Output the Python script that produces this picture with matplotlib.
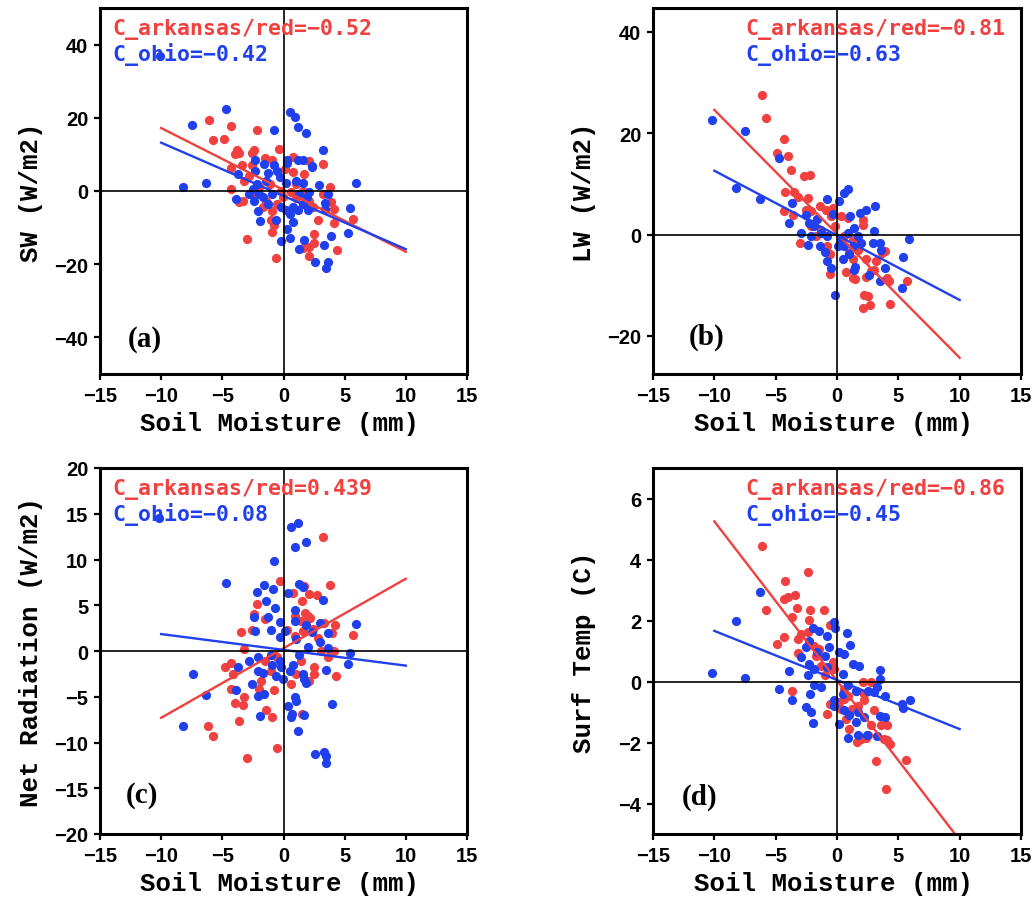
import matplotlib
matplotlib.use('Agg')
import matplotlib.pyplot as plt
import numpy as np

RED = '#F0403F'
BLUE = '#2040EE'

# ---------------- data ----------------
xticks = [-15, -10, -5, 0, 5, 10, 15]
fit_x = [-10, 10]

# (a) SW
sw_ark = [(-6.1, 19.5), (-4.3, 17.7), (-2.2, 16.8), (-5.8, 13.9), (-4.9, 14.1), (-3.8, 11.1),
          (-3.6, 10.5), (-4.0, 10.0), (-2.6, 10.5), (-2.4, 11.1), (-0.4, 11.5), (0.8, 9.4),
          (-1.5, 9.1), (-4.3, 6.2), (-3.4, 7.1), (-2.6, 7.1), (-2.8, 4.1), (-0.9, 8.6),
          (0.1, 5.9), (0.8, 5.3), (1.7, 4.6), (3.2, 7.5), (2.1, 8.2), (-4.3, 0.6), (-3.2, 2.6),
          (-3.6, -3.1), (-3.3, -2.8), (-1.4, -2.6), (-1.7, -4.4), (-0.95, -5.5), (-1.0, -8.0),
          (-0.8, -9.4), (-0.9, -11.3), (-3.0, -13.2), (-0.6, -18.3), (3.8, 1.2), (3.2, -0.8),
          (3.9, -3.1), (4.1, -4.9), (4.1, -8.7), (5.7, -7.6), (2.8, -7.8), (2.5, -11.8),
          (2.5, -14.3), (2.1, -15.4), (1.6, -15.7), (2.1, -17.7), (4.4, -16.1), (1.0, -1.9),
          (2.1, -2.6), (2.4, -4.4), (0.6, -0.4), (-0.2, 0.1), (-2.0, 1.0), (-1.1, 1.9),
          (1.0, 1.9), (-0.05, -1.7), (1.6, -0.1), (-2.5, -0.8), (-0.5, -3.5)]
sw_ohio = [(-10.1, 37.0), (-4.69, 22.4), (-7.5, 18.1), (-8.2, 1.2), (-6.3, 2.3), (-0.8, 16.8),
           (0.57, 21.7), (0.95, 20.1), (1.2, 17.4), (1.8, 15.9), (3.2, 11.2), (5.9, 2.1),
           (5.4, -4.7), (5.3, -11.6), (3.9, -12.3), (3.6, -19.3), (3.5, -21.1), (2.6, -19.5),
           (3.3, -14.7), (1.7, -13.4), (1.3, -15.8), (0.5, -12.8), (-0.2, -13.7), (0.3, -10.5),
           (-0.6, -8.0), (-1.9, -8.2), (-2.1, -5.5), (-3.9, -2.2), (-3.7, 4.6), (-2.3, 8.6),
           (-1.6, 7.5), (-2.3, 5.5), (-1.3, 4.8), (-0.8, 7.0), (-0.5, 5.5), (0.3, 8.6),
           (0.3, 7.7), (1.2, 8.6), (1.6, 8.4), (2.3, 6.8), (2.3, 6.6), (2.9, 1.7), (3.6, -0.8),
           (3.4, -3.3), (3.4, -4.9), (0.2, 2.1), (1.0, 2.6), (1.6, 2.3), (-1.4, 2.8),
           (-0.3, 3.7), (-2.8, -0.8), (-2.5, 0.5), (-2.2, 1.9), (-2.0, -0.8), (-2.4, -2.6),
           (-1.7, -1.7), (-1.3, -3.5), (-0.9, -0.8), (-0.2, -4.4), (0.2, -5.3), (0.5, -6.2),
           (0.8, -4.4), (1.2, -5.3), (1.6, -3.5), (1.9, -1.7), (2.0, -5.3), (0.8, -8.5),
           (1.3, -0.8), (2.1, -0.4)]
sw_fit_ark = [17.2, -16.6]
sw_fit_ohio = [13.2, -15.9]

# (b) LW
lw_ark = [(-6.1, 27.6), (-5.8, 23.0), (-4.3, 18.9), (-4.9, 16.0), (-4.0, 15.6), (-3.75, 12.7),
          (-2.7, 11.6), (-2.2, 11.8), (-4.2, 8.4), (-3.5, 8.4), (-3.2, 7.4), (-2.4, 7.2),
          (-4.3, 4.7), (-3.6, 3.9), (-2.5, 4.9), (-2.1, 4.6), (-1.4, 5.6), (-0.9, 4.9),
          (-0.35, 5.3), (-0.5, 3.6), (0.3, 3.6), (0.9, 3.3), (2.1, 2.8), (2.1, 1.8),
          (-3.0, -1.6), (-1.7, -0.3), (-1.3, 1.0), (-0.8, -2.3), (-0.6, -3.9), (-0.6, -7.7),
          (0.7, -7.3), (1.3, -8.6), (1.5, -8.8), (1.0, -3.6), (1.7, -3.0), (2.4, -4.9),
          (2.4, -8.4), (2.8, -7.2), (3.2, -5.3), (3.7, -3.6), (3.9, -3.3), (4.1, -8.6),
          (4.2, -9.2), (5.7, -9.2), (2.2, -12.0), (2.5, -12.2), (2.1, -14.5), (2.7, -13.9),
          (4.3, -13.6), (1.3, -4.9), (3.0, -6.9), (0.6, -0.3), (1.3, -1.0), (-2.1, 1.6),
          (-1.6, 3.0), (-0.2, 1.6)]
lw_ohio = [(-10.2, 22.6), (-7.5, 20.5), (-4.7, 15.1), (-8.2, 9.2), (-6.3, 7.1), (-3.7, 6.2),
           (-3.9, 2.2), (-2.9, 0.3), (-2.4, -2.0), (-2.5, 3.9), (-0.8, 7.1), (0.2, 6.7),
           (0.6, 8.2), (0.9, 8.9), (-0.3, 4.0), (1.1, 3.6), (1.9, 4.3), (2.4, 4.9), (3.1, 5.6),
           (3.0, 0.7), (2.9, -1.6), (3.5, -1.6), (3.6, -3.0), (5.9, -0.9), (5.4, -4.5),
           (5.3, -10.5), (3.9, -6.6), (3.5, -9.1), (2.6, -8.0), (1.4, -7.0), (1.5, -6.3),
           (-0.2, -12.0), (-0.5, -6.6), (-0.8, -5.3), (-1.0, -3.5), (-1.4, -2.3), (-1.85, 1.6),
           (-2.3, 2.3), (-1.6, 3.0), (-2.1, -0.3), (-1.3, 0.3), (-0.8, -0.3), (0.3, -1.0),
           (0.6, -2.3), (0.9, 0.3), (1.4, 1.3), (1.7, -0.3), (1.96, -1.6), (0.5, -4.9),
           (1.0, -3.9), (1.3, -2.3), (0.05, -2.3)]
lw_fit_ark = [24.6, -24.3]
lw_fit_ohio = [12.6, -12.9]

# (c) Net radiation
nr_ark = [(3.2, 12.5), (-0.3, 7.6), (1.7, 7.1), (3.8, 7.2), (0.8, 6.3), (1.5, 5.5), (2.1, 6.2),
          (2.75, 6.1), (-2.2, 5.1), (-2.45, 4.0), (-1.55, 3.5), (1.77, 4.2), (2.0, 3.8),
          (2.2, 3.6), (0.9, 3.8), (1.4, 3.3), (-3.5, 2.1), (-2.6, 2.3), (-3.2, 0.2),
          (0.25, 2.3), (0.9, 1.6), (1.6, 2.2), (2.4, 2.4), (3.3, 3.1), (4.2, 2.8), (4.0, 2.0),
          (5.7, 1.8), (4.1, 0.0), (2.8, 1.45), (3.1, 0.0), (3.6, -0.7), (4.3, -2.7),
          (2.5, -1.7), (2.5, -2.5), (2.1, -3.3), (0.6, -3.6), (-4.8, -1.8), (-4.3, -1.3),
          (-4.1, -2.5), (-4.3, -4.1), (-3.2, -5.0), (-3.3, -5.9), (-4.0, -5.7), (-2.0, -4.2),
          (-1.8, -3.3), (-0.8, -4.3), (-1.4, -6.5), (-0.9, -7.2), (-3.65, -7.7), (-6.2, -8.2),
          (-5.8, -9.3), (-0.55, -10.6), (-3.0, -11.7), (1.5, -6.9), (-1.55, -1.1),
          (-1.0, -2.2), (-0.5, -0.7), (1.4, -1.1), (1.0, -2.5)]
nr_ohio = [(-10.2, 14.5), (0.6, 13.6), (1.2, 14.0), (0.95, 11.4), (1.85, 11.9), (-0.8, 9.8),
           (-4.7, 7.4), (-1.6, 7.2), (-2.15, 6.5), (-0.85, 6.8), (0.35, 6.3), (1.25, 7.3),
           (1.6, 7.0), (3.2, 5.6), (-1.4, 5.5), (-0.7, 4.7), (-2.4, 3.7), (-1.3, 3.7),
           (-0.25, 3.2), (0.9, 4.5), (0.95, 3.3), (1.8, 2.8), (2.3, 2.1), (3.0, 3.1), (3.6, 2.0),
           (5.9, 2.9), (5.4, -0.2), (5.3, -1.4), (3.0, 1.0), (3.6, 0.3), (2.0, 0.4), (1.3, -0.4),
           (-1.0, 2.3), (-2.3, 2.2), (0.1, 2.2), (-0.3, 1.5), (1.0, 1.3), (-7.4, -2.5),
           (-6.3, -4.8), (-8.2, -8.2), (-3.9, -4.3), (-3.7, -1.7), (-2.8, -1.1), (-2.1, -0.7),
           (-2.1, -2.2), (-1.7, -2.4), (-1.0, -0.4), (-0.9, -1.5), (-0.3, -1.1), (-0.2, -1.8),
           (-0.65, -2.7), (-0.05, -3.1), (0.5, -2.2), (0.8, -1.5), (1.6, -2.5), (1.7, -3.1),
           (1.85, -3.5), (3.5, -2.1), (-2.6, -3.6), (-2.1, -4.9), (-1.6, -4.7), (-1.9, -7.1),
           (0.7, -6.9), (0.6, -7.2), (1.7, -7.0), (0.35, -6.0), (0.9, -5.0), (1.0, -5.5),
           (1.2, -8.7), (3.95, -5.8), (2.6, -11.3), (3.3, -11.0), (3.5, -11.5), (3.5, -12.2)]
nr_fit_ark = [-7.3, 7.9]
nr_fit_ohio = [1.85, -1.6]

# (d) Surface temperature
st_ark = [(-6.15, 4.44), (-2.4, 3.58), (-4.25, 3.29), (-4.35, 2.69), (-3.97, 2.77), (-3.4, 2.84),
          (-5.8, 2.33), (-3.3, 2.40), (-3.7, 2.11), (-2.23, 2.33), (-1.06, 2.36), (-2.3, 2.02),
          (-4.9, 1.23), (-4.35, 1.45), (-3.2, 1.38), (-2.9, 1.56), (-2.4, 1.62), (-3.2, 0.94),
          (-1.85, 1.18), (-1.44, 1.07), (-1.7, 0.85), (-1.3, 0.52), (-0.54, 1.84),
          (-0.35, 0.63), (-0.27, 0.42), (-1.0, 0.2), (-3.7, -0.3), (-0.8, -1.06), (-0.6, -0.73),
          (0.6, -0.24), (0.87, -0.46), (1.55, -0.3), (2.2, -0.4), (2.1, -0.02), (2.8, -0.02),
          (2.2, -0.62), (1.7, -0.79), (1.2, -0.9), (0.73, -1.22), (1.0, -1.55), (1.63, -1.99),
          (1.96, -1.88), (2.4, -1.86), (2.5, -1.77), (2.8, -1.44), (3.6, -1.42), (4.1, -1.44),
          (3.0, -0.95), (3.8, -1.88), (4.05, -1.91), (4.33, -2.04), (3.2, -2.62), (5.63, -2.56),
          (4.0, -3.54), (0.19, -0.68), (0.33, -0.9), (0.6, -0.57)]
st_ohio = [(-10.2, 0.28), (-8.2, 2.0), (-7.5, 0.12), (-6.3, 2.95), (-3.9, 0.34), (-4.7, -0.24),
           (-3.7, -0.62), (-2.56, -0.83), (-2.1, -1.0), (-1.93, -1.37), (-2.2, -0.4),
           (-1.85, -0.13), (-1.3, -0.19), (-2.94, 0.8), (-2.53, 1.13), (-2.26, 1.34),
           (-1.93, 1.76), (-1.44, 1.64), (-0.82, 1.48), (-0.27, 1.95), (-0.16, 1.75),
           (-0.63, 1.13), (-1.63, 0.96), (-1.0, 0.85), (-2.26, 0.58), (-1.9, 0.42),
           (-2.34, 0.22), (-0.82, 0.47), (0.46, 0.25), (0.19, 0.96), (0.6, 0.91), (1.09, 1.2),
           (0.82, 1.58), (1.28, 0.58), (1.82, 0.52), (3.5, 0.39), (3.5, 0.07), (3.3, -0.19),
           (3.05, -0.35), (2.5, -0.3), (1.55, -0.3), (0.87, -0.13), (0.46, -0.4), (-0.22, -0.79),
           (-0.27, -0.62), (0.6, -0.95), (1.0, -1.11), (1.7, -1.0), (2.2, -1.17), (1.55, -1.33),
           (1.74, -1.77), (2.45, -1.77), (3.27, -1.79), (3.5, -1.14), (3.95, -1.15),
           (0.14, -1.39), (0.87, -1.85), (5.3, -0.73), (5.36, -0.86), (5.96, -0.62), (3.9, -0.46)]
st_fit_ark = [5.25, -5.2]
st_fit_ohio = [1.66, -1.56]

ylabels = ['SW (W/m2)', 'LW (W/m2)', 'Net Radiation (W/m2)', 'Surf Temp (C)']
ark_texts = ['C_arkansas/red=\u22120.52', 'C_arkansas/red=\u22120.81',
             'C_arkansas/red=0.439', 'C_arkansas/red=\u22120.86']
ohio_texts = ['C_ohio=\u22120.42', 'C_ohio=\u22120.63', 'C_ohio=\u22120.08', 'C_ohio=\u22120.45']
letters = ['(a)', '(b)', '(c)', '(d)']
yticks_list = [[-40, -20, 0, 20, 40], [-20, 0, 20, 40],
               [-20, -15, -10, -5, 0, 5, 10, 15, 20], [-4, -2, 0, 2, 4, 6]]
ylims = [(-50, 50), (-27.5, 44.7), (-20, 20), (-5, 7)]

# ---------------- figure ----------------
plt.rcParams['font.family'] = 'Liberation Sans'
plt.rcParams['font.weight'] = 'bold'
plt.rcParams['axes.unicode_minus'] = True

W, H = 1036, 903
fig = plt.figure(figsize=(W / 100, H / 100), dpi=100)

boxes = [(100, 9, 467, 375), (653, 9, 1021, 375), (100, 469, 467, 835), (653, 469, 1021, 835)]
text_x = [0.035, 0.25, 0.035, 0.25]
letter_pos = [(0.076, 0.096), (0.098, 0.104), (0.071, 0.109), (0.079, 0.104)]

panels = [(sw_ark, sw_ohio, sw_fit_ark, sw_fit_ohio),
          (lw_ark, lw_ohio, lw_fit_ark, lw_fit_ohio),
          (nr_ark, nr_ohio, nr_fit_ark, nr_fit_ohio),
          (st_ark, st_ohio, st_fit_ark, st_fit_ohio)]

mono_bold = dict(family='Liberation Mono', weight='bold', size=18.5)

for i, (ark, ohio, fa, fo) in enumerate(panels):
    l, t, r, b = boxes[i]
    ax = fig.add_axes([l / W, 1 - b / H, (r - l) / W, (b - t) / H])
    ax_arr = np.array(ark)
    oh_arr = np.array(ohio)
    ax.scatter(ax_arr[:, 0], ax_arr[:, 1], s=44, color=RED, linewidths=0, zorder=2)
    ax.scatter(oh_arr[:, 0], oh_arr[:, 1], s=44, color=BLUE, linewidths=0, zorder=2.1)
    ax.plot(fit_x, fa, color=RED, lw=1.7, zorder=2.5)
    ax.plot(fit_x, fo, color=BLUE, lw=1.7, zorder=2.6)
    ax.axhline(0, color='black', lw=1.2, zorder=3)
    ax.axvline(0, color='black', lw=1.2, zorder=3)
    ax.set_xlim(-15, 15)
    ax.set_ylim(*ylims[i])
    ax.set_xticks(xticks)
    ax.set_yticks(yticks_list[i])
    ax.tick_params(direction='out', length=4.5, width=1.6, labelsize=14.5, pad=4,
                   top=False, right=False)
    for sp in ax.spines.values():
        sp.set_linewidth(2.2)
    ax.set_xlabel('Soil Moisture (mm)', fontdict=mono_bold)
    ax.xaxis.set_label_coords(0.49, -0.100)
    ax.set_ylabel(ylabels[i], fontdict=mono_bold)
    ax.yaxis.set_label_coords(-0.155, 0.5)
    ax.text(text_x[i], 0.929, ark_texts[i], transform=ax.transAxes, color=RED,
            family='DejaVu Sans Mono', weight='bold', fontsize=15.5, va='baseline', zorder=5)
    ax.text(text_x[i], 0.858, ohio_texts[i], transform=ax.transAxes, color=BLUE,
            family='DejaVu Sans Mono', weight='bold', fontsize=15.5, va='baseline', zorder=5)
    lx, ly = letter_pos[i]
    ax.text(lx, ly, letters[i], transform=ax.transAxes, family='Liberation Serif',
            weight='bold', fontsize=21, va='center', ha='left', zorder=5)

fig.savefig('out.png', dpi=100)
